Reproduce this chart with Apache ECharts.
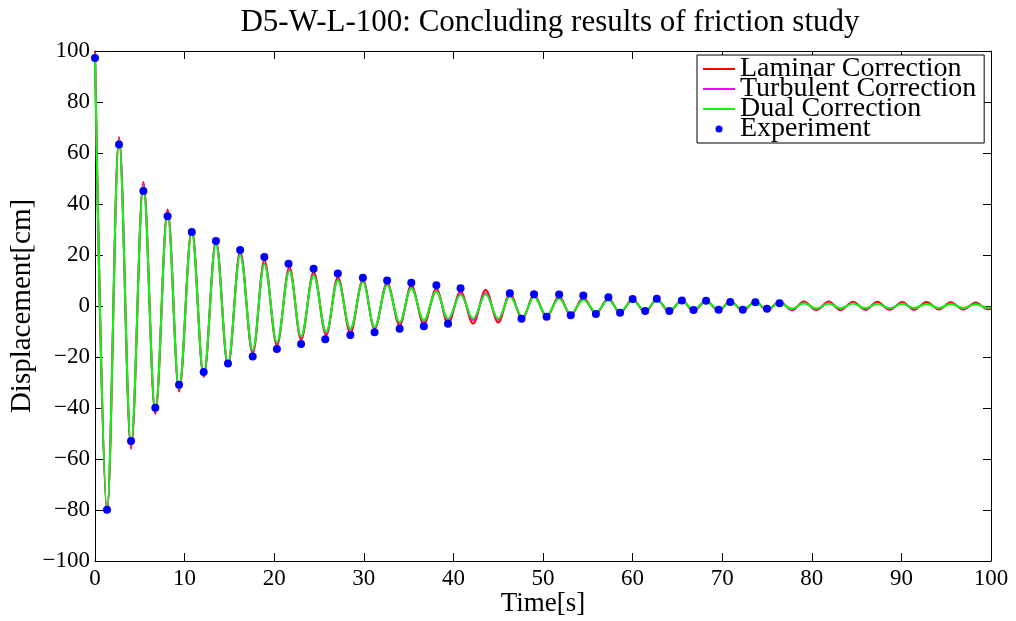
<!DOCTYPE html>
<html>
<head>
<meta charset="utf-8">
<script src="https://cdn.jsdelivr.net/npm/echarts@6/dist/echarts.min.js"></script>
<style>
  html, body { margin: 0; padding: 0; background: #ffffff; }
  #chart { width: 1016px; height: 621px; }
</style>
</head>
<body>
<div id="chart"></div>
<script>
// Turning points (peaks and troughs) of the simulated free-decay responses [s]
const extremaTimes = [0, 1.34, 2.68, 4.02, 5.40, 6.73, 8.10, 9.38, 10.80, 12.13,
  13.50, 14.84, 16.20, 17.60, 18.90, 20.30, 21.70, 23.00, 24.40, 25.80,
  27.10, 28.50, 29.90, 31.20, 32.60, 34.00, 35.30, 36.70, 38.10, 39.40,
  40.80, 42.20, 43.60, 45.00, 46.30, 47.70, 49.00, 50.40, 51.80, 53.10,
  54.50, 55.90, 57.30, 58.60, 60.00, 61.40, 62.70, 64.10, 65.50, 66.80,
  68.20, 69.60, 70.90, 72.30, 73.70, 75.00, 76.40, 77.80, 79.10, 80.50,
  81.90, 83.20, 84.60, 86.00, 87.30, 88.70, 90.10, 91.40, 92.80, 94.20,
  95.50, 96.90, 98.30, 99.60, 100];

// Displacement at those turning points [cm]
const laminarValues = [100, -81, 66.3, -56, 48.6, -42.3, 37.8, -33.5, 30.3, -27.8,
  25.5, -23.5, 21.5, -18.7, 17.9, -15.5, 15.3, -13.2, 13.3, -11.5,
  11.3, -10.6, 10.3, -8.9, 9.1, -7.6, 8.1, -7.2, 6.8, -6.9,
  5.7, -6.9, 6.3, -6.5, 4.8, -5.0, 4.4, -4.3, 3.8, -3.7,
  3.3, -3.0, 3.0, -2.8, 2.7, -2.5, 2.6, -2.3, 2.4, -2.1,
  2.2, -2.0, 2.0, -1.9, 1.9, -1.8, 1.8, -1.7, 1.8, -1.6,
  1.8, -1.6, 1.7, -1.5, 1.7, -1.5, 1.6, -1.5, 1.6, -1.4,
  1.5, -1.4, 1.4, -1.3, -1.2];

const turbulentValues = [99, -80, 65.5, -54.6, 47.6, -41.5, 37, -32.8, 29.4, -27.2,
  24.8, -22.8, 20.5, -17.8, 16.8, -14.6, 14.2, -12.3, 12.4, -10.6,
  10.3, -9.3, 9.7, -8.5, 8.4, -6.7, 7.3, -6.0, 6.0, -5.5,
  4.8, -5.5, 5.0, -5.4, 4.1, -4.5, 3.7, -3.9, 3.1, -3.2,
  2.7, -2.6, 2.6, -2.4, 2.4, -2.1, 2.4, -1.9, 2.1, -1.7,
  1.9, -1.6, 1.6, -1.5, 1.5, -1.4, 1.4, -1.3, 1.3, -1.2,
  1.2, -1.1, 1.2, -1.1, 1.1, -1.1, 1.1, -1.0, 1.0, -1.0,
  1.0, -1.0, 0.9, -0.9, -0.8];

const dualValues = [99, -80, 65, -54, 47, -41, 36.5, -32.5, 29, -27,
  24.5, -22.5, 20, -17.4, 16.4, -14.2, 13.8, -11.9, 12.0, -10.2,
  10.0, -8.9, 9.4, -8.3, 8.1, -6.3, 7.0, -5.6, 5.7, -5.0,
  4.4, -5.0, 4.6, -5.0, 3.8, -4.3, 3.5, -3.7, 2.9, -3.0,
  2.5, -2.4, 2.4, -2.2, 2.2, -1.9, 2.3, -1.8, 2.0, -1.5,
  1.8, -1.4, 1.5, -1.3, 1.4, -1.2, 1.2, -1.1, 1.1, -1.0,
  1.0, -0.9, 1.0, -0.9, 0.9, -0.9, 0.9, -0.8, 0.8, -0.8,
  0.8, -0.8, 0.7, -0.7, -0.6];

// Measured turning points
const experimentTimes = [0.0, 1.34, 2.68, 4.02, 5.40, 6.73, 8.10, 9.38, 10.80, 12.13,
  13.50, 14.84, 16.20, 17.60, 18.90, 20.30, 21.60, 23.00, 24.40, 25.70,
  27.10, 28.50, 29.90, 31.20, 32.60, 34.00, 35.30, 36.70, 38.10, 39.40,
  40.80, 46.30, 47.60, 49.00, 50.40, 51.80, 53.10, 54.50, 55.90, 57.30,
  58.60, 60.00, 61.40, 62.70, 64.10, 65.50, 66.80, 68.20, 69.60, 70.90,
  72.30, 73.70, 75.00, 76.40];
const experimentValues = [97.3, -79.9, 63.3, -52.9, 45.1, -39.9, 35.2, -30.9, 29.0, -25.9,
  25.5, -22.5, 22.0, -19.8, 19.2, -16.9, 16.6, -14.9, 14.6, -13.0,
  12.7, -11.4, 11.1, -10.3, 10.0, -8.9, 9.1, -7.9, 8.1, -7.0,
  7.0, 5.0, -5.0, 4.6, -4.2, 4.5, -3.6, 4.1, -3.1, 3.4,
  -2.6, 2.7, -2.0, 2.8, -2.0, 2.2, -1.6, 2.1, -1.5, 1.6,
  -1.5, 1.5, -1.1, 1.1];

const xTicks = { min: 0, max: 100, interval: 10 };
const yTicks = { min: -100, max: 100, interval: 20 };

const FONT = 'Liberation Serif';
// Short horizontal bar used as the legend sample for the curves
const LINE_ICON = 'path://M0,0 H32 V2 H0 Z';

function pairs(xs, ys) {
  return xs.map((x, i) => [x, ys[i]]);
}

function curve(name, color, values) {
  return {
    name: name,
    type: 'line',
    data: pairs(extremaTimes, values),
    symbol: 'none',
    showSymbol: false,
    smooth: 0.36,
    smoothMonotone: 'x',
    lineStyle: { color: color, width: 2 },
    itemStyle: { color: color },
    clip: true
  };
}

const frameAxis = {
  axisLine: { show: true, onZero: false, lineStyle: { color: '#000', width: 1 } },
  axisTick: { show: true, inside: true, length: 8, lineStyle: { color: '#000', width: 1 } },
  splitLine: { show: false }
};

const minusSign = v => String(v).replace('-', '\u2212');

const chart = echarts.init(document.getElementById('chart'), null, { renderer: 'canvas' });
chart.setOption({
  animation: false,
  backgroundColor: '#ffffff',
  title: {
    text: 'D5-W-L-100: Concluding results of friction study',
    left: 545,
    top: 2,
    textAlign: 'center',
    textStyle: { fontFamily: FONT, fontSize: 31, fontWeight: 'normal', color: '#000' }
  },
  grid: { left: 95, right: 25, top: 51, bottom: 60, containLabel: false, outerBoundsMode: 'none' },
  legend: {
    orient: 'vertical',
    left: 697,
    top: 55,
    padding: [0, 8, 0, 6],
    itemWidth: 32,
    itemHeight: 7,
    itemGap: -8,
    selectedMode: false,
    backgroundColor: '#ffffff',
    borderColor: '#000',
    borderWidth: 1,
    textStyle: { fontFamily: FONT, fontSize: 28, lineHeight: 20, color: '#000' },
    data: [
      { name: 'Laminar Correction', icon: LINE_ICON },
      { name: 'Turbulent Correction', icon: LINE_ICON },
      { name: 'Dual Correction', icon: LINE_ICON },
      { name: 'Experiment', icon: 'circle' }
    ]
  },
  xAxis: [
    Object.assign({
      type: 'value', position: 'bottom',
      min: xTicks.min, max: xTicks.max, interval: xTicks.interval,
      name: 'Time[s]', nameLocation: 'middle', nameGap: 29, nameMoveOverlap: false,
      nameTextStyle: { fontFamily: FONT, fontSize: 27, color: '#000' },
      axisLabel: { fontFamily: FONT, fontSize: 23, color: '#000', margin: 6 }
    }, frameAxis),
    Object.assign({
      type: 'value', position: 'top',
      min: xTicks.min, max: xTicks.max, interval: xTicks.interval,
      axisLabel: { show: false }
    }, frameAxis)
  ],
  yAxis: [
    Object.assign({
      type: 'value', position: 'left',
      min: yTicks.min, max: yTicks.max, interval: yTicks.interval,
      name: 'Displacement[cm]', nameLocation: 'middle', nameGap: 58, nameMoveOverlap: false,
      nameTextStyle: { fontFamily: FONT, fontSize: 29, color: '#000' },
      axisLabel: { fontFamily: FONT, fontSize: 23, color: '#000', margin: 5, formatter: minusSign }
    }, frameAxis),
    Object.assign({
      type: 'value', position: 'right',
      min: yTicks.min, max: yTicks.max, interval: yTicks.interval,
      axisLabel: { show: false }
    }, frameAxis)
  ],
  series: [
    curve('Laminar Correction', '#ff0000', laminarValues),
    curve('Turbulent Correction', '#ff00ff', turbulentValues),
    curve('Dual Correction', '#00ff00', dualValues),
    {
      name: 'Experiment',
      type: 'scatter',
      data: pairs(experimentTimes, experimentValues),
      symbol: 'circle',
      symbolSize: 8,
      itemStyle: { color: '#0000ff', opacity: 1 },
      z: 5
    }
  ]
});
</script>
</body>
</html>
